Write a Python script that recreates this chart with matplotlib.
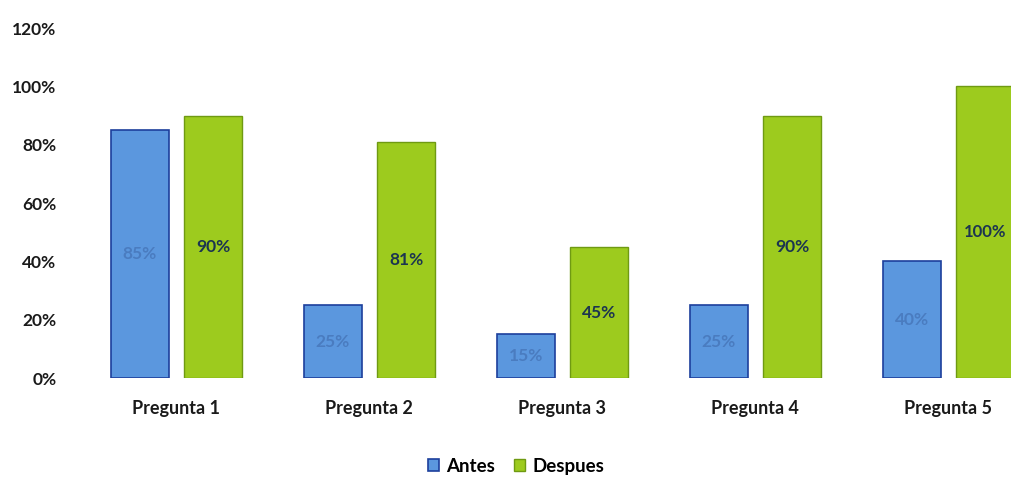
import numpy as np
import matplotlib.pyplot as plt
from matplotlib.ticker import PercentFormatter

categorias = ["Pregunta 1", "Pregunta 2", "Pregunta 3", "Pregunta 4", "Pregunta 5"]
antes = [85, 25, 15, 25, 40]
despues = [90, 81, 45, 90, 100]

plt.rcParams['font.family'] = ['Lato', 'DejaVu Sans']

fig = plt.figure(figsize=(10.12, 4.83), dpi=100)
ax = fig.add_axes([0.079, 0.217, 0.921, 0.725])

x = np.arange(len(categorias))
w = 0.30
off = 0.19
b1 = ax.bar(x - off, antes, w, color="#5b97de", edgecolor="#1d3f9c", linewidth=1.2, label="Antes")
b2 = ax.bar(x + off, despues, w, color="#9dcb1e", edgecolor="#6f9a12", linewidth=1.0, label="Despues")

# etiquetas de datos centradas en cada barra
for rect, v in zip(b1, antes):
    ax.text(rect.get_x() + rect.get_width() / 2, v / 2, f"{v}%", ha="center", va="center",
            fontsize=12.5, color="#4a7cc0", fontweight="bold")
for rect, v in zip(b2, despues):
    ax.text(rect.get_x() + rect.get_width() / 2, v / 2, f"{v}%", ha="center", va="center",
            fontsize=12 if v >= 100 else 12.5, color="#1c3550", fontweight="bold")

ax.set_ylim(0, 120)
ax.set_yticks(range(0, 121, 20))
ax.yaxis.set_major_formatter(PercentFormatter(decimals=0))
ax.set_xlim(-0.5, 4.33)
ax.set_xticks(x)
ax.set_xticklabels(categorias)
for s in ax.spines.values():
    s.set_visible(False)
ax.tick_params(length=0)
ax.tick_params(axis="x", pad=16, labelsize=13, labelcolor="#1a1a1a")
ax.tick_params(axis="y", pad=17, labelsize=12.5, labelcolor="#1a1a1a")
for lab in ax.get_xticklabels() + ax.get_yticklabels():
    lab.set_fontweight("bold")

fig.legend(handles=[b1, b2], loc="center", bbox_to_anchor=(0.51, 0.035), ncol=2,
           frameon=False, handlelength=0.6, handleheight=0.6, handletextpad=0.4,
           columnspacing=1.0, prop={"weight": "bold", "size": 13.5})

fig.savefig("out.png", dpi=100)
